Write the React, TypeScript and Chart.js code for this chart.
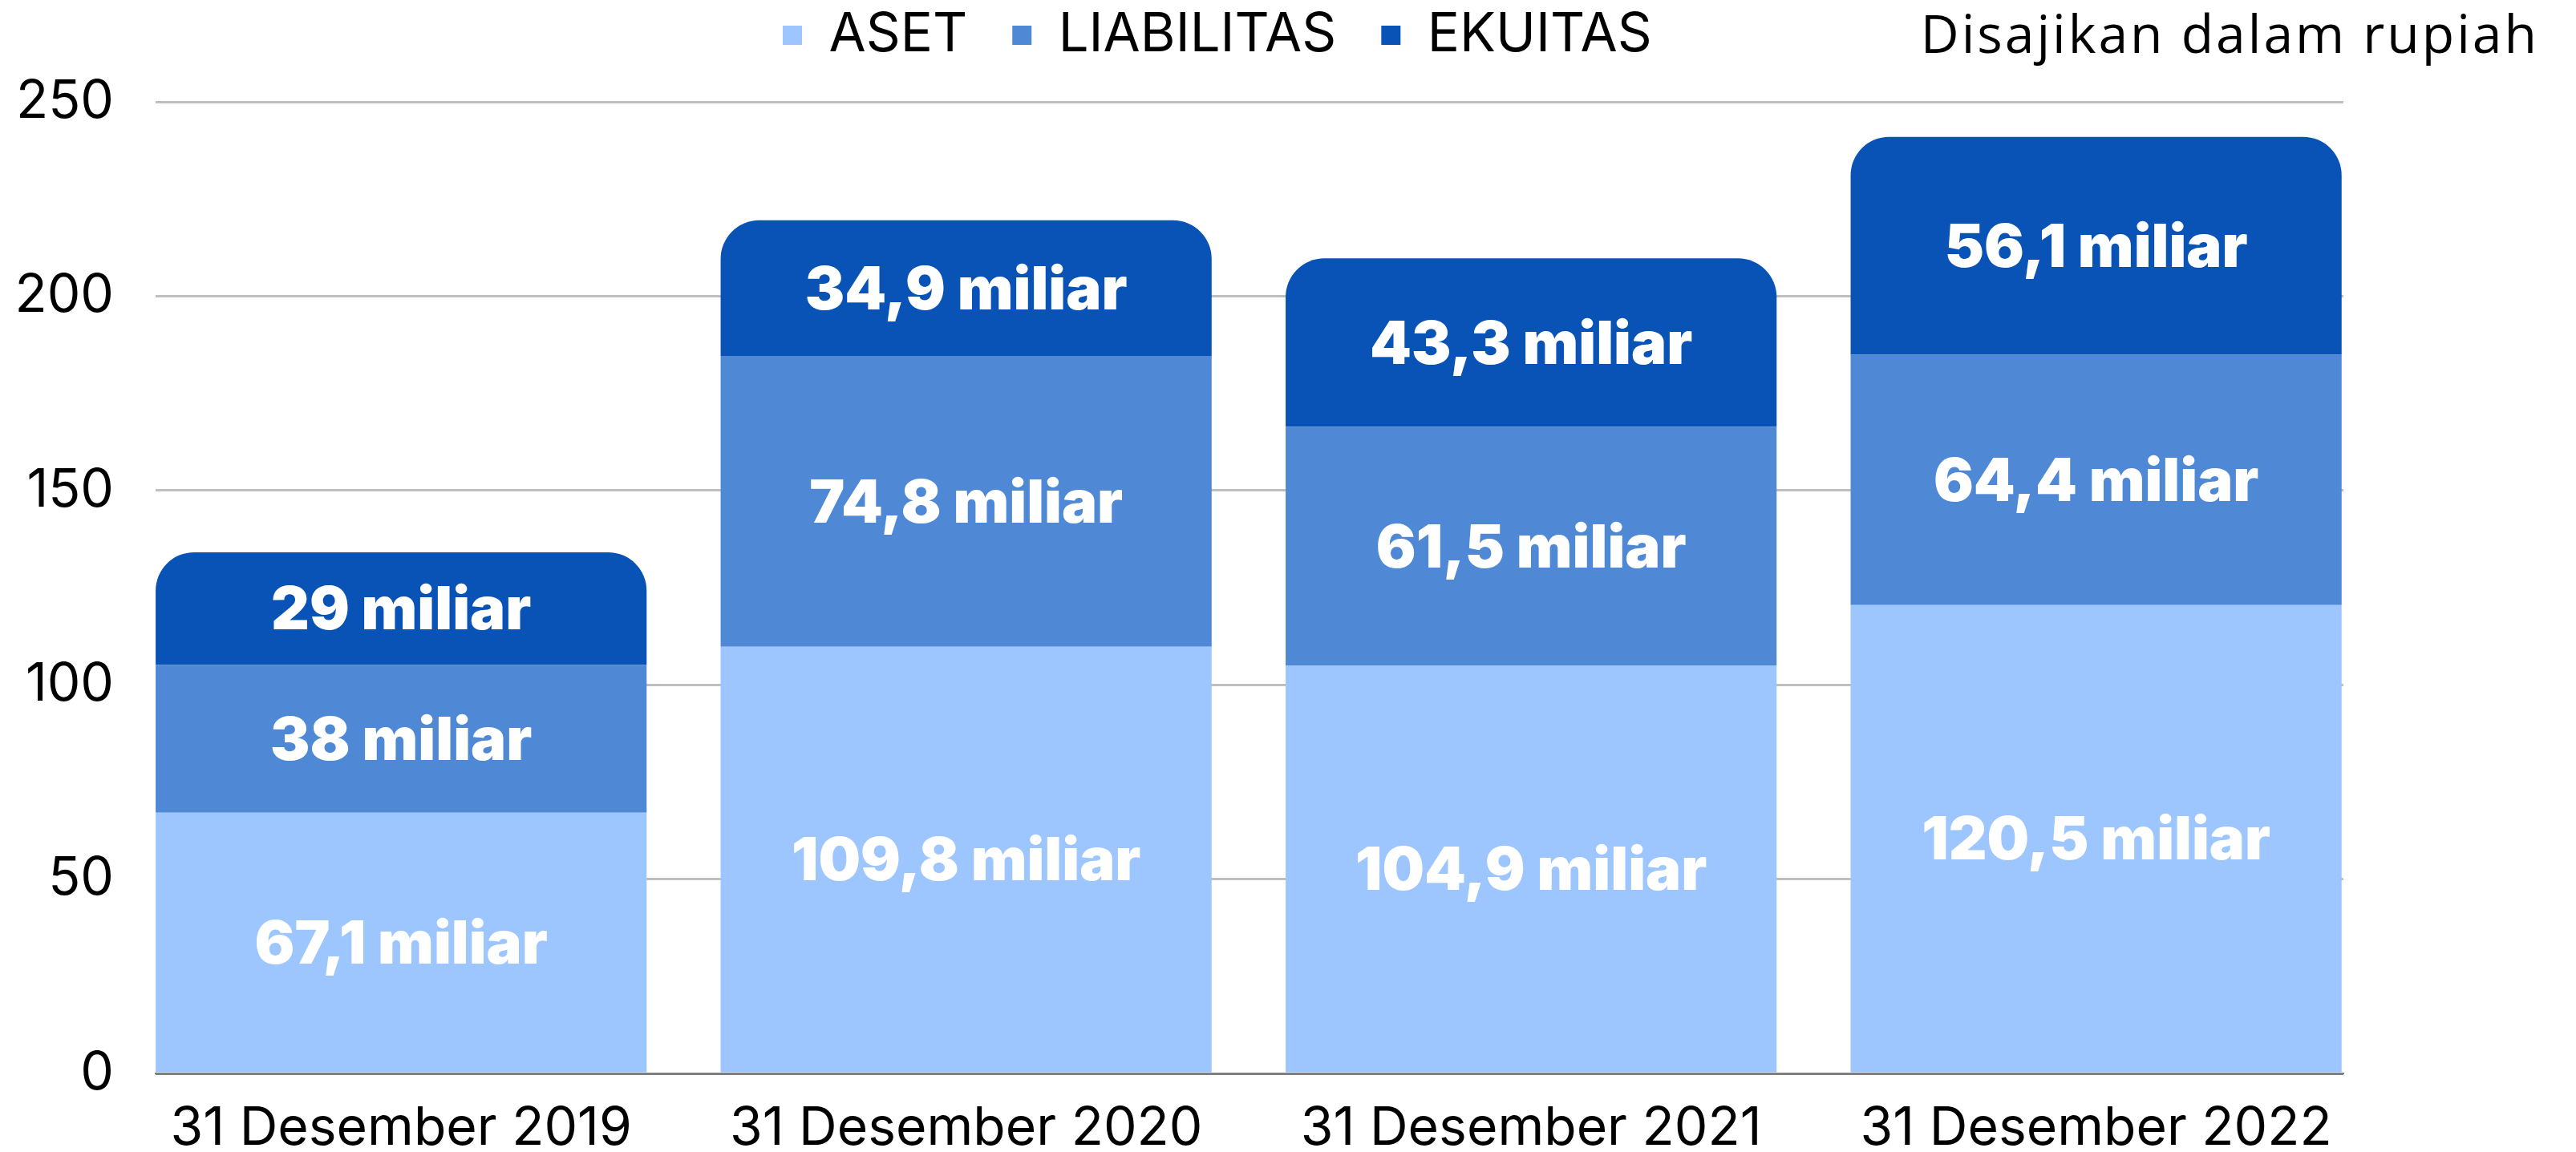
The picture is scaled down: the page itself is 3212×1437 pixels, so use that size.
import React, { useEffect, useRef } from 'react';
import { Chart, registerables } from 'chart.js';

Chart.register(...registerables);

// ---- data ----
const categories = ['31 Desember 2019', '31 Desember 2020', '31 Desember 2021', '31 Desember 2022'];
const seriesNames = ['ASET', 'LIABILITAS', 'EKUITAS'];
const asetValues = [67.1, 109.8, 104.9, 120.5];
const liabilitasValues = [38, 74.8, 61.5, 64.4];
const ekuitasValues = [29, 34.9, 43.3, 56.1];
const yTickValues = [0, 50, 100, 150, 200, 250];
const unitLabel = 'Disajikan dalam rupiah';
const valueSuffix = ' miliar';

// ---- styles ----
const seriesColors = ['#9EC6FE', '#4F88D4', '#0953B6'];
const W = 3212;
const H = 1437;
const AREA = { left: 194, right: 2922, top: 127, bottom: 1339 };
const LEGEND_START_X = 976;
const LEGEND_CENTER_Y = 44;
const LEGEND_FONT = 67;
const LEGEND_PAD = 56;

const fmt = (v: number) => String(v).replace('.', ',') + valueSuffix;

const layoutPlugin = {
  id: 'layoutTweaks',
  beforeLayout(chart: any) {
    const lg = chart.legend;
    if (lg && !lg.__patched) {
      const orig = lg.fit.bind(lg);
      lg.fit = function () {
        orig();
        this.height = AREA.top;
      };
      lg.__patched = true;
    }
  },
  afterLayout(chart: any) {
    const lg = chart.legend;
    if (!lg) return;
    const w = lg.right - lg.left;
    lg.left = LEGEND_START_X - LEGEND_PAD;
    lg.right = lg.left + w;
    lg.top = LEGEND_CENTER_Y - LEGEND_FONT / 2 - LEGEND_PAD;
  },
};

const labelPlugin = {
  id: 'segmentLabels',
  afterDatasetsDraw(chart: any) {
    const ctx = chart.ctx;
    ctx.save();
    ctx.fillStyle = '#FFFFFF';
    ctx.font = '900 74px Inter';
    ctx.textAlign = 'center';
    ctx.textBaseline = 'middle';
    chart.data.datasets.forEach((ds: any, di: number) => {
      const meta = chart.getDatasetMeta(di);
      meta.data.forEach((el: any, i: number) => {
        const { x, y, base } = el.getProps(['x', 'y', 'base'], true);
        ctx.fillText(fmt(ds.data[i]), x, (y + base) / 2 + 4);
      });
    });
    ctx.restore();
  },
  afterDraw(chart: any) {
    const ctx = chart.ctx;
    ctx.save();
    ctx.fillStyle = '#000000';
    ctx.font = '400 66px "Open Sans"';
    ctx.textAlign = 'right';
    ctx.textBaseline = 'alphabetic';
    try {
      (ctx as any).letterSpacing = '3px';
    } catch (e) {
      /* ignore */
    }
    ctx.fillText(unitLabel, 3166, 66);
    ctx.restore();
  },
};

export default function App() {
  const ref = useRef<HTMLCanvasElement>(null);
  useEffect(() => {
    document.body.style.margin = '0';
    const chart = new Chart(ref.current as HTMLCanvasElement, {
      type: 'bar',
      data: {
        labels: categories,
        datasets: [
          { label: seriesNames[0], data: asetValues, backgroundColor: seriesColors[0], borderWidth: 0 },
          { label: seriesNames[1], data: liabilitasValues, backgroundColor: seriesColors[1], borderWidth: 0 },
          {
            label: seriesNames[2],
            data: ekuitasValues,
            backgroundColor: seriesColors[2],
            borderWidth: 0,
            borderRadius: { topLeft: 48, topRight: 48, bottomLeft: 0, bottomRight: 0 },
            borderSkipped: 'start',
          },
        ],
      },
      options: {
        responsive: false,
        animation: false,
        events: [],
        datasets: { bar: { categoryPercentage: 1, barPercentage: 0.869 } },
        layout: { padding: { left: 0, right: W - AREA.right, top: 0, bottom: 0 } },
        plugins: {
          tooltip: { enabled: false },
          legend: {
            display: true,
            position: 'top',
            align: 'start',
            labels: {
              boxWidth: 24,
              boxHeight: 24,
              padding: LEGEND_PAD,
              color: '#000000',
              font: { family: 'Inter', size: LEGEND_FONT, weight: '400' },
            },
          },
        },
        scales: {
          x: {
            stacked: true,
            grid: { display: false },
            border: { display: true, color: '#7F7F7F', width: 2 },
            ticks: {
              color: '#000000',
              font: { family: 'Inter', size: 66 },
              padding: 22,
              maxRotation: 0,
              autoSkip: false,
            },
            afterFit: (s: any) => {
              s.height = H - AREA.bottom;
            },
            afterBuildTicks: (s: any) => {
              s._startValue = -0.4346;
              s._valueRange = 3.8723;
            },
          },
          y: {
            stacked: true,
            min: 0,
            max: 250,
            border: { display: false },
            grid: {
              drawTicks: false,
              lineWidth: 3,
              color: (c: any) => (c.tick && c.tick.value === 0 ? '#7F7F7F' : '#BFBFBF'),
            },
            ticks: {
              color: '#000000',
              font: { family: 'Inter', size: 66 },
              padding: 52,
            },
            afterBuildTicks: (s: any) => {
              s.ticks = yTickValues.map((v) => ({ value: v }));
            },
            afterFit: (s: any) => {
              s.width = AREA.left;
            },
          },
        },
      },
      plugins: [layoutPlugin, labelPlugin],
    } as any);
    return () => chart.destroy();
  }, []);
  return <canvas ref={ref} width={W} height={H} style={{ display: 'block' }} />;
}
